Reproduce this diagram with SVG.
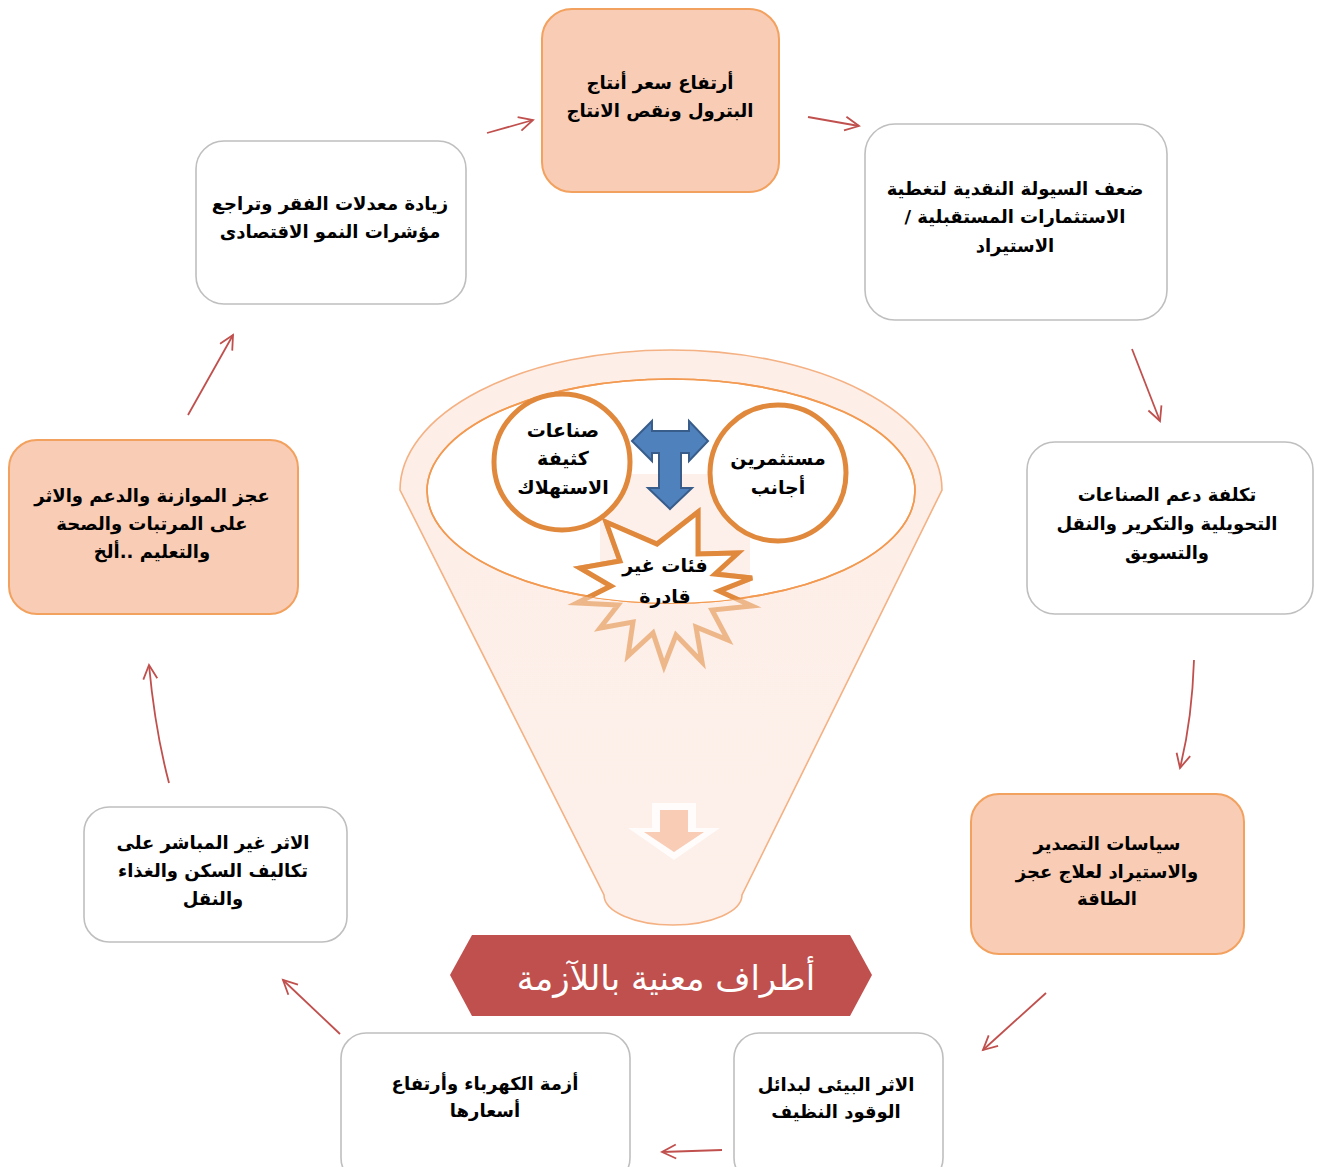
<svg xmlns="http://www.w3.org/2000/svg" width="1317" height="1167" viewBox="0 0 1317 1167">
<style>
.pe{fill:#F9CCB5;stroke:#F2A15E;stroke-width:2}
.wh{fill:#FFFFFF;stroke:#BFBFBF;stroke-width:1.6}
.t{font-family:"DejaVu Sans",sans-serif;font-weight:bold;font-size:18px;fill:#000;text-anchor:middle}
.tc{font-family:"DejaVu Sans",sans-serif;font-weight:bold;font-size:19px;fill:#000;text-anchor:middle}
.c{fill:#FFFFFF;stroke:#E0883C;stroke-width:5}
.arr{fill:none;stroke:#C0504D;stroke-width:1.8;marker-end:url(#ah)}
</style>
<defs>
<marker id="ah" markerUnits="userSpaceOnUse" markerWidth="22" markerHeight="22" refX="16" refY="8" orient="auto">
<path d="M2,1 L16,8 L2,15" fill="none" stroke="#C0504D" stroke-width="1.8"/>
</marker>
<linearGradient id="fg" x1="0" y1="0" x2="0" y2="1">
<stop offset="0" stop-color="#FDEEE7"/>
<stop offset="1" stop-color="#FDF0EA"/>
</linearGradient>
<clipPath id="ie"><ellipse cx="671" cy="491" rx="244" ry="112"/></clipPath>
</defs>
<rect width="1317" height="1167" fill="#FFFFFF"/>

<g id="funnel">
<path d="M400,490 A271,140 0 0 1 942,490 L742,895 A69,30 0 0 1 604,895 Z" fill="url(#fg)" stroke="#F4B183" stroke-width="1.6"/>
<ellipse cx="671" cy="491" rx="244" ry="112" fill="#FFFFFF" stroke="#F39A52" stroke-width="1.6"/>
<rect x="600" y="474" width="150" height="140" fill="#FDF0EA" clip-path="url(#ie)"/>
<ellipse cx="671" cy="491" rx="244" ry="112" fill="none" stroke="#F39A52" stroke-width="1.6"/>
<g id="down-arrow">
<path d="M652,803 L696,803 L696,828 L720,828 L674,860 L628,828 L652,828 Z" fill="#FFFFFF" opacity="0.8"/>
<path d="M660,810 L688,810 L688,832 L704,832 L674,852 L644,832 L660,832 Z" fill="#F9CCB5"/>
</g>
</g>

<g id="star">
<polygon points="698,512 698,554 738,553 715,574 752,578 719,591 752,606 712,610 728,640 696,627 702,662 676,635 664,666 653,633 628,656 633,622 600,628 618,605 577,603 611,586 580,568 620,561 606,522 657,544" fill="none" stroke="#E0883C" stroke-width="5" stroke-linejoin="miter" opacity="0.55"/>
<polygon points="698,512 698,554 738,553 715,574 752,578 719,591 752,606 712,610 728,640 696,627 702,662 676,635 664,666 653,633 628,656 633,622 600,628 618,605 577,603 611,586 580,568 620,561 606,522 657,544" fill="#FFFFFF" stroke="#E0883C" stroke-width="5" stroke-linejoin="miter" clip-path="url(#ie)"/>
<text class="tc" direction="rtl" x="665" y="572">فئات  غير</text>
<text class="tc" direction="rtl" x="665" y="603">قادرة</text>
</g>

<g id="circle-left">
<circle class="c" cx="562" cy="462" r="68"/>
<text class="tc" direction="rtl" x="563" y="437">صناعات</text>
<text class="tc" direction="rtl" x="563" y="465">كثيفة</text>
<text class="tc" direction="rtl" x="563" y="494">الاستهلاك</text>
</g>
<g id="circle-right">
<circle class="c" cx="778" cy="473" r="68"/>
<text class="tc" direction="rtl" x="778" y="465">مستثمرين</text>
<text class="tc" direction="rtl" x="778" y="494">أجانب</text>
</g>

<g id="t-arrow">
<path d="M632,441 L652,421 L652,431 L689,431 L689,421 L708,441 L689,461 L689,453 L681,453 L681,488 L692,488 L670,509 L648,488 L659,488 L659,453 L652,453 L652,461 Z" fill="#4F81BD" stroke="#385D8A" stroke-width="2" stroke-linejoin="miter"/>
</g>

<g id="banner">
<polygon points="450,975 472,935 850,935 872,975 850,1016 472,1016" fill="#C0504D"/>
<text x="666" y="990" direction="rtl" font-family="DejaVu Sans,sans-serif" font-size="34" fill="#FFFFFF" text-anchor="middle">أطراف معنية باللآزمة</text>
</g>

<g id="connectors">
<path class="arr" d="M487,133 L533,120"/>
<path class="arr" d="M808,117 L859,126"/>
<path class="arr" d="M1132,349 L1160,421"/>
<path class="arr" d="M1194,660 Q1192,720 1180,768"/>
<path class="arr" d="M1046,993 L983,1050"/>
<path class="arr" d="M722,1150 L662,1152"/>
<path class="arr" d="M340,1034 L283,980"/>
<path class="arr" d="M169,783 Q155,730 149,665"/>
<path class="arr" d="M188,415 L233,335"/>
</g>

<g id="n1">
<rect class="pe" x="542" y="9" width="237" height="183" rx="30"/>
<text class="t" direction="rtl" x="660" y="89">أرتفاع سعر أنتاج</text>
<text class="t" direction="rtl" x="660" y="117">البترول ونقص الانتاج</text>
</g>
<g id="n2">
<rect class="wh" x="865" y="124" width="302" height="196" rx="30"/>
<text class="t" direction="rtl" x="1015" y="195">ضعف السيولة النقدية لتغطية</text>
<text class="t" direction="rtl" x="1015" y="223">الاستثمارات المستقبلية /</text>
<text class="t" direction="rtl" x="1015" y="252">الاستيراد</text>
</g>
<g id="n3">
<rect class="wh" x="1027" y="442" width="286" height="172" rx="28"/>
<text class="t" direction="rtl" x="1167" y="501">تكلفة دعم الصناعات</text>
<text class="t" direction="rtl" x="1167" y="530">التحويلية  والتكرير والنقل</text>
<text class="t" direction="rtl" x="1167" y="559">والتسويق</text>
</g>
<g id="n4">
<rect class="pe" x="971" y="794" width="273" height="160" rx="28"/>
<text class="t" direction="rtl" x="1107" y="850">سياسات التصدير</text>
<text class="t" direction="rtl" x="1107" y="878">والاستيراد لعلاج عجز</text>
<text class="t" direction="rtl" x="1107" y="905">الطاقة</text>
</g>
<g id="n5">
<rect class="wh" x="734" y="1033" width="209" height="150" rx="25"/>
<text class="t" direction="rtl" x="836" y="1091">الاثر البيئى لبدائل</text>
<text class="t" direction="rtl" x="836" y="1118">الوقود النظيف</text>
</g>
<g id="n6">
<rect class="wh" x="341" y="1033" width="289" height="150" rx="25"/>
<text class="t" direction="rtl" x="485" y="1090">أزمة الكهرباء وأرتفاع</text>
<text class="t" direction="rtl" x="485" y="1117">أسعارها</text>
</g>
<g id="n7">
<rect class="wh" x="84" y="807" width="263" height="135" rx="25"/>
<text class="t" direction="rtl" x="213" y="849">الاثر غير المباشر على</text>
<text class="t" direction="rtl" x="213" y="877">تكاليف السكن والغذاء</text>
<text class="t" direction="rtl" x="213" y="905">والنقل</text>
</g>
<g id="n8">
<rect class="pe" x="9" y="440" width="289" height="174" rx="28"/>
<text class="t" direction="rtl" x="152" y="502">عجز  الموازنة والدعم والاثر</text>
<text class="t" direction="rtl" x="152" y="530">على المرتبات والصحة</text>
<text class="t" direction="rtl" x="152" y="558">والتعليم ..ألخ</text>
</g>
<g id="n9">
<rect class="wh" x="196" y="141" width="270" height="163" rx="28"/>
<text class="t" direction="rtl" x="330" y="210">زيادة معدلات الفقر وتراجع</text>
<text class="t" direction="rtl" x="330" y="238">مؤشرات  النمو الاقتصادى</text>
</g>
</svg>
